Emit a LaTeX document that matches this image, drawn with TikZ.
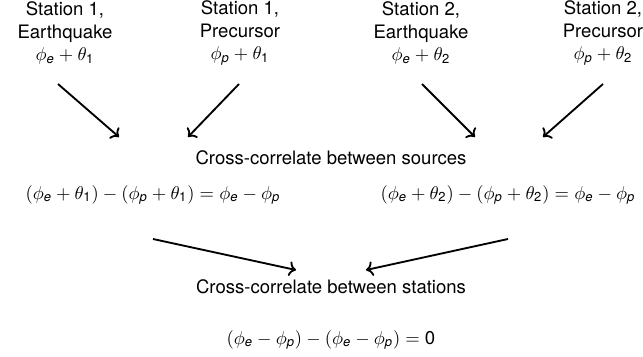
\documentclass[tikz,border=0pt]{standalone}
\usepackage{amsmath}
\usepackage{fontspec}
\setmainfont{TeX Gyre Heros}
\usetikzlibrary{arrows.meta,positioning}
\newcommand{\phe}{\phi_{\textit{e}}}
\newcommand{\php}{\phi_{\textit{p}}}
\newcommand{\thx}[1]{\theta_{\text{#1}}}

\begin{document}
\begin{tikzpicture}[x=0.5394pt,y=-0.5394pt,
  lbl/.style={align=center,inner sep=0pt},
  arr/.style={->,line width=1pt}]
  \useasboundingbox (0,0) rectangle (643,356);
  % sources at the two stations
  \node[lbl] (s1e) at (65,33) {Station 1,\\Earthquake\\$\phe+\thx{1}$};
  \node[lbl] (s1p) at (240,33) {Station 1,\\Precursor\\$\php+\thx{1}$};
  \node[lbl] (s2e) at (421,33) {Station 2,\\Earthquake\\$\phe+\thx{2}$};
  \node[lbl] (s2p) at (603,33) {Station 2,\\Precursor\\$\php+\thx{2}$};
  % first correlation
  \node[lbl] (srcs) at (331,158) {Cross-correlate between sources};
  \node[lbl] (eq1) at (153,195) {$(\phe+\thx{1})-(\php+\thx{1})=\phe-\php$};
  \node[lbl] (eq2) at (508,195) {$(\phe+\thx{2})-(\php+\thx{2})=\phe-\php$};
  % second correlation
  \node[lbl] (stns) at (331,287) {Cross-correlate between stations};
  \node[lbl] (res) at (331,340) {$(\phe-\php)-(\phe-\php)=\text{0}$};
  % arrow ends
  \coordinate (a1) at (58,84);   \coordinate (b1) at (119,137);
  \coordinate (a2) at (239,84);  \coordinate (b2) at (188,137);
  \coordinate (a3) at (422,84);  \coordinate (b3) at (475,137);
  \coordinate (a4) at (603,84);  \coordinate (b4) at (543,137);
  \coordinate (c1) at (153,239); \coordinate (d1) at (296,270);
  \coordinate (c2) at (508,239); \coordinate (d2) at (366,270);
  \draw[arr] (a1) -- (b1);
  \draw[arr] (a2) -- (b2);
  \draw[arr] (a3) -- (b3);
  \draw[arr] (a4) -- (b4);
  \draw[arr] (c1) -- (d1);
  \draw[arr] (c2) -- (d2);
\end{tikzpicture}
\end{document}
